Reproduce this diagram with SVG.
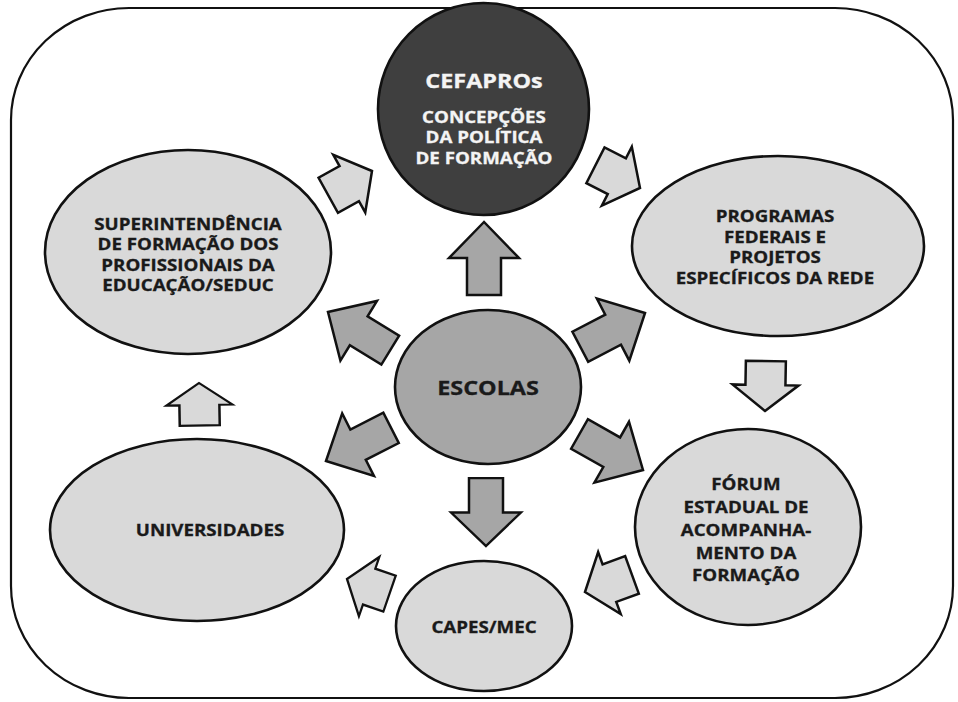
<svg xmlns="http://www.w3.org/2000/svg" xmlns:xlink="http://www.w3.org/1999/xlink" width="958" height="702" viewBox="0 0 958 702">
<style>
.frame{fill:#fff;stroke:#111;stroke-width:2.2}
.nl{fill:#d9d9d9;stroke:#111;stroke-width:2.6}
.nd{fill:#a6a6a6;stroke:#111;stroke-width:2.6}
.nk{fill:#3f3f3f;stroke:#111;stroke-width:2.6}
.ad{fill:#a6a6a6;stroke:#111;stroke-width:2.5;stroke-linejoin:miter}
.al{fill:#d9d9d9;stroke:#111;stroke-width:2.5;stroke-linejoin:miter}
text{font-family:"Open Sans","Liberation Sans",sans-serif;font-weight:700;text-anchor:middle;fill:#1a1a1a;stroke:#1a1a1a;stroke-width:0.3;font-size:16px}
.w{fill:#f4f4f4;stroke:#f4f4f4}
.big{font-size:20px}
</style>
<defs>
<path id="arrowDark" d="M0,0 L-36,-35 L-36,-17 L-73,-17 L-73,17 L-36,17 L-36,35 Z"/>
<path id="arrowLight" d="M0,0 L-26,-33 L-26,-20 L-50,-20 L-50,20 L-26,20 L-26,33 Z"/>
</defs>
<rect class="frame" x="11" y="8" width="942" height="690" rx="118" ry="112"/>
<g id="connectors">
<use href="#arrowDark" class="ad" transform="translate(484 222) rotate(-90)"/>
<use href="#arrowDark" class="ad" transform="translate(486 546) rotate(90) scale(0.93 1)"/>
<use href="#arrowDark" class="ad" transform="translate(328 312) rotate(211.5)"/>
<use href="#arrowDark" class="ad" transform="translate(645 313) rotate(-27.6)"/>
<use href="#arrowDark" class="ad" transform="translate(326 461) rotate(153)"/>
<use href="#arrowDark" class="ad" transform="translate(643 470) rotate(29.6)"/>
<use href="#arrowLight" class="al" transform="translate(372 171) rotate(-29)"/>
<use href="#arrowLight" class="al" transform="translate(640 188) rotate(27)"/>
<use href="#arrowLight" class="al" transform="translate(765 411) rotate(91)"/>
<use href="#arrowLight" class="al" transform="translate(585 592) rotate(160)"/>
<use href="#arrowLight" class="al" transform="translate(347 579) rotate(199) scale(0.9 0.95)"/>
<use href="#arrowLight" class="al" transform="translate(199 383) rotate(-91) scale(0.85 1)"/>
</g>
<g id="cefapros">
<ellipse class="nk" cx="483.5" cy="109" rx="105.5" ry="106"/>
<g transform="translate(484 0) scale(1.17 1)">
<text class="w big" x="0" y="88">CEFAPROs</text>
<text class="w" x="0" y="123">CONCEPÇÕES</text>
<text class="w" x="0" y="143.5">DA POLÍTICA</text>
<text class="w" x="0" y="164">DE FORMAÇÃO</text>
</g>
</g>
<g id="programas">
<ellipse class="nl" cx="778" cy="246" rx="146" ry="90"/>
<g transform="translate(775 0) scale(1.17 1)">
<text x="0" y="222.5">PROGRAMAS</text>
<text x="0" y="243">FEDERAIS E</text>
<text x="0" y="263.5">PROJETOS</text>
<text x="0" y="284">ESPECÍFICOS DA REDE</text>
</g>
</g>
<g id="superintendencia">
<ellipse class="nl" cx="188" cy="252" rx="143" ry="102"/>
<g transform="translate(188 0) scale(1.17 1)">
<text x="0" y="230">SUPERINTENDÊNCIA</text>
<text x="0" y="250.5">DE FORMAÇÃO DOS</text>
<text x="0" y="271">PROFISSIONAIS DA</text>
<text x="0" y="291.5">EDUCAÇÃO/SEDUC</text>
</g>
</g>
<g id="escolas">
<ellipse class="nd" cx="488" cy="387" rx="93" ry="77"/>
<g transform="translate(488 0) scale(1.17 1)">
<text class="big" x="0" y="395">ESCOLAS</text>
</g>
</g>
<g id="forum">
<ellipse class="nl" cx="748" cy="527" rx="113" ry="98"/>
<g transform="translate(746 0) scale(1.17 1)">
<text x="0" y="490">FÓRUM</text>
<text x="0" y="513">ESTADUAL DE</text>
<text x="0" y="536">ACOMPANHA-</text>
<text x="0" y="559">MENTO DA</text>
<text x="0" y="581">FORMAÇÃO</text>
</g>
</g>
<g id="universidades">
<ellipse class="nl" cx="197" cy="530" rx="147" ry="91"/>
<g transform="translate(210 0) scale(1.17 1)">
<text x="0" y="536">UNIVERSIDADES</text>
</g>
</g>
<g id="capes">
<ellipse class="nl" cx="484" cy="626" rx="88" ry="65"/>
<g transform="translate(484 0) scale(1.17 1)">
<text x="0" y="633">CAPES/MEC</text>
</g>
</g>
</svg>
